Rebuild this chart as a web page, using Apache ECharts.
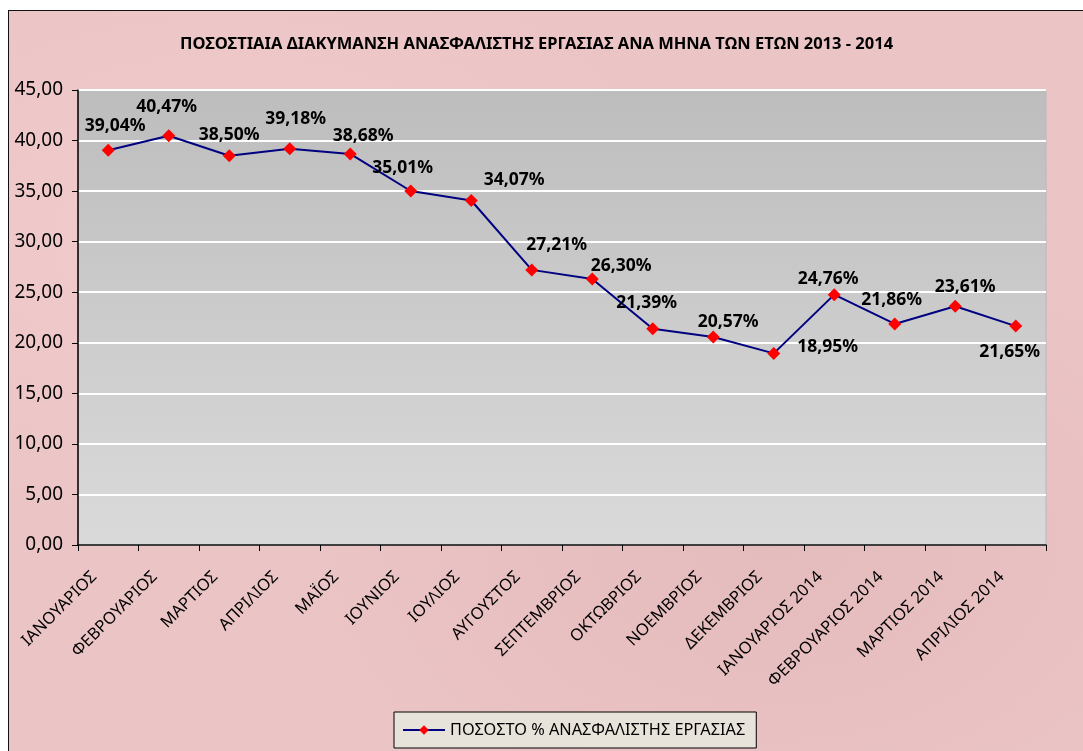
<!DOCTYPE html>
<html><head><meta charset="utf-8">
<script src="https://cdn.jsdelivr.net/npm/echarts@6/dist/echarts.min.js"></script>
<style>
html,body{margin:0;padding:0;background:#fff;width:1083px;height:751px;overflow:hidden;}
#frame{position:absolute;left:8px;top:10px;width:1090px;height:760px;border:1.5px solid #111;
background:#ebc4c5;
background-image:radial-gradient(ellipse at 20% 30%, rgba(255,220,220,0.35), rgba(0,0,0,0) 40%),
radial-gradient(ellipse at 70% 70%, rgba(200,150,150,0.18), rgba(0,0,0,0) 45%);}
#chart{position:absolute;left:0;top:0;width:1083px;height:751px;}
</style></head>
<body>
<div id="frame"></div>
<div id="chart"></div>
<script>
const categories = ['ΙΑΝΟΥΑΡΙΟΣ','ΦΕΒΡΟΥΑΡΙΟΣ','ΜΑΡΤΙΟΣ','ΑΠΡΙΛΙΟΣ','ΜΑΪΟΣ','ΙΟΥΝΙΟΣ','ΙΟΥΛΙΟΣ','ΑΥΓΟΥΣΤΟΣ','ΣΕΠΤΕΜΒΡΙΟΣ','ΟΚΤΩΒΡΙΟΣ','ΝΟΕΜΒΡΙΟΣ','ΔΕΚΕΜΒΡΙΟΣ','ΙΑΝΟΥΑΡΙΟΣ 2014','ΦΕΒΡΟΥΑΡΙΟΣ 2014','ΜΑΡΤΙΟΣ 2014','ΑΠΡΙΛΙΟΣ 2014'];
const values = [39.04,40.47,38.50,39.18,38.68,35.01,34.07,27.21,26.30,21.39,20.57,18.95,24.76,21.86,23.61,21.65];
const seriesName = 'ΠΟΣΟΣΤΟ % ΑΝΑΣΦΑΛΙΣΤΗΣ ΕΡΓΑΣΙΑΣ';
const titleText = 'ΠΟΣΟΣΤΙΑΙΑ ΔΙΑΚΥΜΑΝΣΗ ΑΝΑΣΦΑΛΙΣΤΗΣ ΕΡΓΑΣΙΑΣ ΑΝΑ ΜΗΝΑ ΤΩΝ ΕΤΩΝ 2013 - 2014';
const yTicks = {min:0, max:45, interval:5};
// label placement offsets (style, not data)
const labelOffsets = [[7,-24],[-2,-29],[0,-21],[6,-30],[13,-18],[-8,-23],[43,-20],[25,-25],[29,-13],[-6,-26],[15,-15],[54,-6],[-6,-16],[-3,-24],[10,-19],[-6,26]];

const FONT = '"Noto Sans", sans-serif';
const chart = echarts.init(document.getElementById('chart'), null, {renderer:'canvas'});
chart.setOption({
  backgroundColor: 'transparent',
  animation: false,
  title: {text: titleText, left: 175, top: 31,
    textStyle:{fontFamily:FONT, fontSize:16.5, fontWeight:'bold', color:'#000'}},
  grid: {left:78, top:90, right:37, bottom:206, show:true, borderWidth:1, borderColor:'#b8b8b8',
    backgroundColor: new echarts.graphic.LinearGradient(0,0,0,1,[{offset:0,color:'#bdbdbd'},{offset:1,color:'#dadada'}])},
  legend: {top:712, left:394, itemWidth:42, itemHeight:12, itemGap:8,
    padding:[10,11,10,8], backgroundColor:'#e8e3da', borderColor:'#000', borderWidth:1,
    textStyle:{fontFamily:FONT, fontSize:16.3, color:'#000'}},
  xAxis: {type:'category', data:categories, boundaryGap:true,
    axisLine:{lineStyle:{color:'#000', width:1.5}},
    axisTick:{show:true, alignWithLabel:false, length:6, lineStyle:{color:'#000'}},
    axisLabel:{rotate:45, interval:0, margin:15, padding:[0,20,0,0], fontFamily:FONT, fontSize:16.5, color:'#000'},
    splitLine:{show:false}},
  yAxis: {type:'value', min:yTicks.min, max:yTicks.max, interval:yTicks.interval,
    axisLine:{show:true, lineStyle:{color:'#000', width:1.5}},
    axisTick:{show:true, length:6, lineStyle:{color:'#000'}},
    axisLabel:{margin:15, fontFamily:FONT, fontSize:19, color:'#000',
      formatter: v => v.toFixed(2).replace('.', ',')},
    splitLine:{show:true, lineStyle:{color:'#ffffff', width:2}}},
  series: [{
    name: seriesName, type:'line',
    data: values.map((v,i)=>({value:v, label:{offset:labelOffsets[i]}})),
    lineStyle:{color:'#000080', width:2},
    itemStyle:{color:'#ff0000'},
    symbol:'diamond', symbolSize:13,
    label:{show:true, position:'inside', fontFamily:FONT, fontSize:17.5, fontWeight:'bold', color:'#000',
      formatter: p => p.value.toFixed(2).replace('.', ',') + '%'}
  }]
});
</script>
</body></html>
